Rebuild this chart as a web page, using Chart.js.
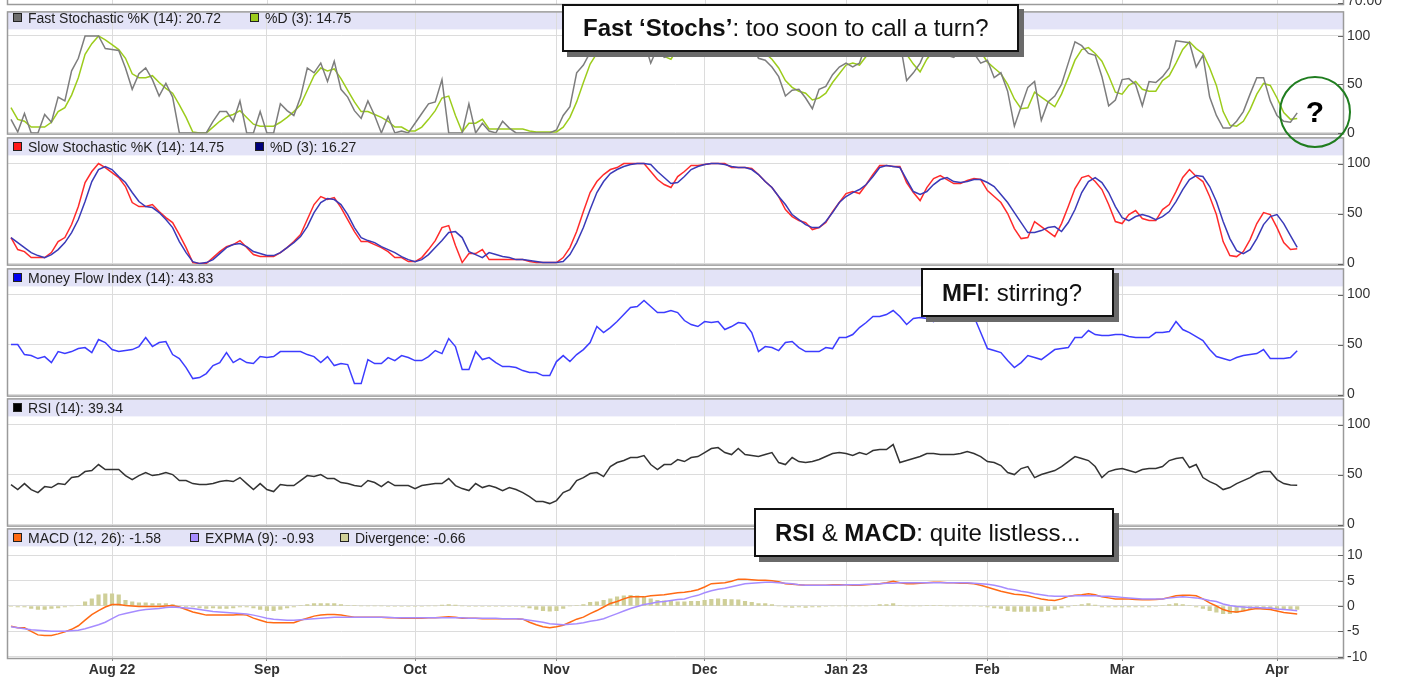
<!DOCTYPE html>
<html>
<head>
<meta charset="utf-8">
<script src="https://cdn.jsdelivr.net/npm/chart.js@4.4.0/dist/chart.umd.min.js"></script>
<style>
  html, body { margin: 0; padding: 0; background: #fff; }
  #wrap { position: relative; width: 1413px; height: 677px; overflow: hidden; font-family: "Liberation Sans", Arial, sans-serif; }
  #wrap canvas { position: absolute; left: 0; }
  .lg { position: absolute; font-size: 14px; color: #222; white-space: nowrap; line-height: 17px; }
  .sw { position: absolute; width: 7px; height: 7px; border: 1px solid #222; }
  .note { position: absolute; box-sizing: border-box; background: #fff; border: 2px solid #111; box-shadow: 5px 5px 0 #6a6a6a;
          font-size: 24px; color: #111; padding-left: 19px; white-space: nowrap; z-index: 10; }
  .ring { position: absolute; box-sizing: border-box; border: 2px solid #1f7d1f; border-radius: 50%; z-index: 10;
          font-weight: bold; font-size: 30px; color: #000; text-align: center; }
</style>
</head>
<body>
<div id="wrap">
  <div class="note" style="left:562px;top:4px;width:457px;height:48px;line-height:44px"><b>Fast ‘Stochs’</b>: too soon to call a turn?</div>
  <div class="note" style="left:921px;top:268px;width:193px;height:49px;line-height:45px"><b>MFI</b>: stirring?</div>
  <div class="note" style="left:754px;top:508px;width:360px;height:49px;line-height:45px"><b>RSI</b> &amp; <b>MACD</b>: quite listless...</div>
  <div class="ring" style="left:1279px;top:76px;width:72px;height:72px;line-height:68px">?</div>
</div>
<script>
// trading days, index 0 = first bar on the left
var monthLabels = ['Aug 22', 'Sep', 'Oct', 'Nov', 'Dec', 'Jan 23', 'Feb', 'Mar', 'Apr'];
var monthStart = [15, 38, 60, 81, 103, 124, 145, 165, 188];

var fastK = [
  14, 1, 20, 0, 0, 19, 11, 37, 33, 64,
  77, 100, 100, 100, 87, 86, 85, 67, 45, 61,
  67, 55, 38, 51, 37, 0, 0, 0, 0, 0,
  12, 22, 22, 12, 33, 0, 0, 22, 0, 0,
  30, 23, 18, 37, 67, 62, 72, 53, 74, 45,
  37, 23, 15, 33, 18, 0, 17, 0, 2, 0,
  10, 20, 30, 32, 55, 0, 0, 0, 30, 0,
  10, 2, 0, 12, 5, 0, 0, 0, 0, 0,
  0, 3, 18, 27, 62, 70, 83, 95, 97, 100,
  98, 100, 100, 100, 95, 72, 88, 78, 80, 95,
  100, 100, 96, 100, 100, 100, 100, 92, 96, 98,
  92, 77, 75, 68, 58, 38, 44, 45, 36, 25,
  45, 48, 60, 68, 72, 68, 72, 92, 100, 100,
  98, 96, 94, 54, 62, 72, 88, 100, 86, 80,
  78, 85, 90, 82, 72, 75, 57, 62, 43, 7,
  27, 47, 53, 13, 32, 38, 50, 72, 94, 90,
  82, 80, 58, 28, 34, 55, 56, 50, 28, 53,
  52, 58, 67, 95, 94, 93, 68, 80, 37, 18,
  5, 5, 12, 22, 40, 57, 57, 33, 18, 12,
  11, 20.72
];

// slow %K is the same line as fast %D
var slowK = [
  26, 14, 12, 6, 6, 6, 11, 22, 26, 39,
  57, 81, 92, 100, 96, 91, 86, 77, 61, 57,
  57, 59, 52, 46, 41, 29, 16, 1, 0, 0,
  6, 12, 17, 19, 23, 16, 9, 7, 7, 7,
  11, 16, 22, 29, 44, 59, 67, 64, 66, 56,
  44, 32, 22, 22, 19, 16, 12, 6, 6, 2,
  2, 6, 14, 23, 36, 38, 18, 1, 10, 10,
  14, 4, 4, 4, 4, 4, 4, 2, 1, 1,
  1, 1, 6, 16, 32, 52, 71, 82, 89, 94,
  96, 100, 100, 100, 100, 92, 84, 79, 76, 87,
  92, 98, 98, 99, 100, 100, 100, 96, 96, 96,
  95, 89, 82, 76, 67, 54, 47, 43, 41, 34,
  36, 41, 52, 61, 70, 72, 70, 79, 89, 98,
  98, 97, 97, 81, 71, 63, 76, 85, 88, 84,
  80, 80, 83, 85, 84, 73, 67, 61, 50, 35,
  25, 26, 42, 37, 32, 27, 40, 57, 75, 86,
  88, 82, 74, 59, 42, 40, 49, 53, 45, 43,
  43, 54, 59, 72, 86, 94, 87, 82, 67, 49,
  22, 8, 7, 12, 24, 40, 51, 49, 36, 21,
  14, 14.75
];
var fastD = slowK;

var slowD = [
  26, 21, 16, 11, 8, 6, 9, 14, 21, 31,
  44, 62, 82, 94, 97, 94, 87, 81, 71, 62,
  57, 56, 51, 44, 36, 22, 11, 2, 0, 1,
  4, 10, 16, 19, 20, 17, 12, 10, 8, 8,
  11, 16, 21, 27, 37, 51, 61, 65, 64, 59,
  49, 36, 26, 23, 21, 17, 14, 11, 7, 4,
  2, 4, 9, 16, 23, 31, 32, 26, 12, 9,
  6, 11, 9, 7, 6, 4, 4, 3, 2, 1,
  1, 1, 2, 9, 21, 36, 54, 71, 82, 90,
  94, 97, 99, 100, 100, 99, 92, 86, 80, 81,
  87, 94, 97, 99, 100, 100, 99, 97, 96, 96,
  94, 89, 82, 76, 67, 59, 49, 44, 39, 36,
  36, 42, 51, 61, 67, 71, 74, 79, 87, 96,
  98, 97, 96, 84, 72, 69, 72, 79, 84, 86,
  82, 81, 82, 84, 84, 81, 77, 69, 61, 51,
  41, 31, 31, 33, 36, 37, 32, 41, 54, 71,
  82, 86, 81, 71, 57, 46, 43, 47, 49, 47,
  44, 47, 52, 62, 74, 84, 88, 87, 77, 62,
  42, 25, 13, 10, 14, 25, 39, 47, 49, 40,
  28, 16.27
];

var mfi = [
  50, 50, 40, 39, 36, 38, 32, 43, 41, 43,
  46, 47, 42, 55, 52, 45, 43, 44, 45, 48,
  57, 48, 52, 53, 40, 36, 27, 16, 17, 21,
  29, 32, 42, 32, 36, 32, 31, 38, 37, 38,
  43, 43, 43, 43, 40, 38, 32, 38, 29, 31,
  30, 11, 11, 35, 31, 31, 37, 34, 39, 37,
  34, 34, 38, 44, 41, 56, 48, 25, 25, 43,
  35, 37, 32, 28, 28, 27, 24, 22, 22, 19,
  19, 33, 39, 33, 40, 45, 52, 68, 62, 67,
  73, 80, 87, 88, 94, 88, 82, 82, 84, 82,
  74, 70, 68, 73, 72, 73, 65, 68, 72, 71,
  62, 43, 48, 47, 44, 52, 53, 47, 43, 43,
  43, 47, 46, 57, 57, 60, 67, 72, 78, 78,
  80, 84, 78, 70, 76, 77, 76, 73, 78, 80,
  82, 82, 80, 78, 62, 46, 44, 42, 34, 27,
  32, 39, 37, 35, 40, 45, 46, 47, 57, 57,
  64, 60, 59, 59, 60, 60, 58, 57, 57, 57,
  62, 62, 63, 73, 65, 62, 58, 54, 45, 38,
  36, 34, 37, 39, 40, 41, 45, 36, 36, 36,
  37, 43.83
];

var rsi = [
  40, 35, 41, 35, 32, 38, 37, 41, 40, 47,
  48, 53, 54, 60, 55, 55, 55, 49, 45, 49,
  52, 49, 50, 52, 50, 44, 44, 41, 40, 40,
  41, 43, 44, 43, 47, 41, 35, 41, 35, 33,
  40, 39, 39, 44, 49, 48, 50, 46, 46, 42,
  41, 39, 38, 44, 42, 38, 43, 39, 39, 39,
  36, 39, 40, 41, 41, 46, 39, 36, 34, 41,
  37, 39, 37, 34, 37, 35, 32, 28, 23, 23,
  21, 24, 32, 35, 44, 47, 51, 52, 48, 58,
  62, 64, 67, 67, 69, 60, 55, 60, 60, 65,
  63, 67, 68, 72, 76, 77, 72, 70, 76, 70,
  69, 68, 70, 72, 62, 60, 67, 63, 62, 63,
  65, 68, 71, 72, 71, 69, 72, 70, 74, 75,
  75, 80, 62, 64, 66, 68, 71, 71, 70, 70,
  70, 71, 73, 71, 68, 63, 62, 59, 52, 50,
  56, 58, 47, 50, 52, 54, 58, 63, 68, 66,
  64, 58, 47, 53, 55, 56, 54, 52, 55, 56,
  56, 58, 64, 66, 67, 57, 60, 47, 43, 40,
  35, 37, 41, 44, 47, 51, 53, 53, 45, 41,
  39.5, 39.34
];

var macd = [
  -4.0, -4.3, -4.3, -5.0, -5.7, -5.8, -5.8, -5.5, -5.1, -4.6,
  -3.9, -2.8, -1.7, -0.9, -0.2, 0.3, 0.3, 0.1, 0, -0.1,
  -0.1, -0.1, -0.1, 0, 0.1, -0.2, -0.7, -1.2, -1.5, -1.8,
  -1.8, -1.8, -1.8, -1.8, -1.7, -1.8, -2.4, -2.8, -3.2, -3.3,
  -3.3, -3.3, -3.3, -2.8, -2.4, -2.0, -1.8, -1.7, -1.7, -1.8,
  -2.0, -2.2, -2.2, -2.2, -2.2, -2.2, -2.3, -2.3, -2.4, -2.4,
  -2.4, -2.4, -2.3, -2.3, -2.2, -2.1, -2.2, -2.4, -2.4, -2.4,
  -2.5, -2.5, -2.5, -2.5, -2.5, -2.5, -2.6, -3.2, -3.7, -4.1,
  -4.3, -4.1, -3.8, -3.2, -2.6, -2.2, -1.5, -0.9, -0.2, 0.5,
  0.9, 1.4, 1.8, 1.8, 1.8, 2.0, 2.1, 2.2, 2.4, 2.6,
  2.7, 2.9, 3.2, 3.75, 4.4, 4.5, 4.6, 4.9, 5.3, 5.3,
  5.2, 5.1, 5.1, 5.0, 4.8, 4.4, 4.3, 4.2, 4.1, 4.1,
  4.1, 4.1, 4.2, 4.2, 4.2, 4.1, 4.1, 4.2, 4.3, 4.4,
  4.6, 4.9, 4.6, 4.4, 4.4, 4.5, 4.6, 4.7, 4.7, 4.6,
  4.6, 4.5, 4.5, 4.4, 4.1, 3.7, 3.3, 2.9, 2.6, 2.3,
  2.2, 2.0, 1.7, 1.4, 1.2, 1.1, 1.4, 1.9, 2.1, 2.2,
  2.4, 2.2, 1.8, 1.6, 1.4, 1.4, 1.4, 1.3, 1.25, 1.25,
  1.3, 1.4, 1.7, 2.0, 2.1, 2.1, 2.0, 1.4, 0.6, 0.0,
  -0.7, -1.1, -1.2, -1.0, -0.7, -0.5, -0.6, -0.7, -1.0, -1.3,
  -1.45, -1.58
];

var expma = [
  -4.1, -4.3, -4.5, -4.7, -4.8, -4.9, -5.0, -5.0, -5.0, -4.9,
  -4.8, -4.5, -4.1, -3.7, -3.2, -2.5, -1.8, -1.5, -1.2, -0.9,
  -0.7, -0.6, -0.5, -0.3, -0.2, -0.3, -0.4, -0.5, -0.7, -0.9,
  -1.1, -1.2, -1.3, -1.4, -1.5, -1.6, -1.8, -2.1, -2.4, -2.6,
  -2.7, -2.8, -2.8, -2.7, -2.6, -2.5, -2.4, -2.3, -2.2, -2.2,
  -2.2, -2.2, -2.2, -2.2, -2.2, -2.2, -2.2, -2.3, -2.3, -2.3,
  -2.3, -2.3, -2.3, -2.3, -2.3, -2.3, -2.3, -2.3, -2.4, -2.4,
  -2.4, -2.4, -2.4, -2.5, -2.5, -2.5, -2.6, -2.8, -3.0, -3.2,
  -3.5, -3.6, -3.7, -3.6, -3.5, -3.3, -3.0, -2.8, -2.5, -2.0,
  -1.5, -1.0, -0.5, -0.1, 0.3, 0.5, 0.8, 0.9, 1.1, 1.3,
  1.4, 1.8, 2.1, 2.6, 3.0, 3.3, 3.5, 3.8, 4.1, 4.4,
  4.5, 4.6, 4.7, 4.7, 4.6, 4.5, 4.4, 4.2, 4.1, 4.1,
  4.1, 4.1, 4.1, 4.1, 4.2, 4.2, 4.2, 4.3, 4.3, 4.4,
  4.5, 4.5, 4.6, 4.6, 4.6, 4.6, 4.6, 4.6, 4.6, 4.6,
  4.6, 4.6, 4.6, 4.5, 4.4, 4.3, 4.1, 3.8, 3.4, 3.2,
  2.9, 2.7, 2.4, 2.2, 2.0, 1.9, 1.9, 1.9, 2.0, 2.0,
  2.0, 2.0, 1.9, 1.9, 1.8, 1.7, 1.6, 1.5, 1.4, 1.4,
  1.4, 1.4, 1.6, 1.7, 1.8, 1.7, 1.6, 1.4, 1.1, 0.9,
  0.4, 0.1, -0.1, -0.2, -0.3, -0.3, -0.4, -0.4, -0.6, -0.7,
  -0.8, -0.93
];

var divergence = [
  -0.1, -0.2, -0.2, -0.5, -0.7, -0.7, -0.5, -0.4, -0.2, 0,
  0.1, 0.8, 1.4, 2.2, 2.4, 2.4, 2.2, 1.1, 0.8, 0.6,
  0.6, 0.5, 0.5, 0.5, 0.3, 0, -0.2, -0.2, -0.4, -0.5,
  -0.4, -0.5, -0.5, -0.4, -0.2, -0.2, -0.4, -0.7, -0.9, -0.9,
  -0.7, -0.4, -0.2, 0.1, 0.3, 0.5, 0.5, 0.5, 0.5, 0.3,
  0.1, 0.1, 0, 0, 0, 0, -0.1, -0.1, -0.1, -0.1,
  -0.1, -0.1, 0, 0, 0.2, 0.3, 0.2, 0, -0.1, -0.1,
  -0.1, -0.1, -0.1, -0.1, -0.1, -0.1, -0.2, -0.4, -0.7, -0.9,
  -1.0, -0.9, -0.5, 0, 0.1, 0.3, 0.7, 0.8, 1.1, 1.4,
  1.8, 2.0, 2.1, 2.0, 1.8, 1.4, 1.1, 1.0, 0.9, 0.8,
  0.8, 0.9, 0.9, 1.1, 1.3, 1.4, 1.3, 1.25, 1.2, 0.9,
  0.7, 0.5, 0.5, 0.3, 0, -0.2, -0.3, -0.2, -0.3, -0.2,
  -0.2, -0.1, 0, 0, 0, 0, 0, 0, 0.1, 0.3,
  0.3, 0.5, 0.1, 0, 0, 0, 0.1, 0.1, 0.1, 0,
  0, 0, 0, 0, -0.1, -0.2, -0.4, -0.5, -0.9, -1.05,
  -1.05, -1.05, -1.05, -1.05, -0.9, -0.7, -0.4, -0.2, 0.1, 0.3,
  0.5, 0.2, -0.2, -0.2, -0.2, -0.2, -0.2, -0.2, -0.2, -0.2,
  -0.1, 0.1, 0.3, 0.5, 0.3, 0.1, -0.2, -0.5, -0.9, -1.2,
  -1.5, -1.5, -1.3, -0.9, -0.6, -0.5, -0.6, -0.5, -0.6, -0.7,
  -0.7, -0.66
];

var oscTicks = [0, 50, 100];
var macdTicks = [-10, -5, 0, 5, 10];

var gridColor = '#dcdcdc';
var frameColor = '#9a9a9a';
var bandColor = '#e3e3f7';
var xMin = -0.445, xMax = 197.8;

Chart.defaults.font.family = '"Liberation Sans", Arial, sans-serif';
Chart.defaults.font.size = 14;

var wrap = document.getElementById('wrap');

function pts(arr) {
  return arr.map(function(v, i) { return {x: i, y: v}; });
}

function lineSet(arr, color) {
  return {type: 'line', data: pts(arr), borderColor: color, borderWidth: 1.5, pointRadius: 0, tension: 0, order: 0};
}

// band, frame, right tick marks and the cut-off panel above the first one
var framePlugin = {
  id: 'panelFrame',
  beforeDraw: function(chart) {
    var a = chart.chartArea, ctx = chart.ctx;
    ctx.save();
    ctx.fillStyle = bandColor;
    ctx.fillRect(a.left, a.top, a.right - a.left, 17);
    ctx.restore();
  },
  afterDraw: function(chart, args, opts) {
    var a = chart.chartArea, ctx = chart.ctx, y = chart.scales.y;
    ctx.save();
    ctx.strokeStyle = frameColor;
    ctx.lineWidth = 1.5;
    ctx.strokeRect(a.left - 0.5, a.top - 0.5, a.right - a.left + 1, a.bottom - a.top + 1);
    ctx.strokeStyle = '#666';
    ctx.lineWidth = 1;
    y.ticks.forEach(function(t) {
      var py = Math.round(y.getPixelForValue(t.value)) + 0.5;
      ctx.beginPath(); ctx.moveTo(a.right - 5, py); ctx.lineTo(a.right, py); ctx.stroke();
    });
    if (opts.remnant) {
      var x = chart.scales.x;
      ctx.strokeStyle = gridColor;
      monthStart.forEach(function(m) {
        var px = Math.round(x.getPixelForValue(m)) + 0.5;
        ctx.beginPath(); ctx.moveTo(px, 0); ctx.lineTo(px, 4); ctx.stroke();
      });
      ctx.strokeStyle = frameColor;
      ctx.lineWidth = 1.5;
      ctx.beginPath();
      ctx.moveTo(a.left - 0.5, 0); ctx.lineTo(a.left - 0.5, 4.5); ctx.lineTo(a.right + 0.5, 4.5); ctx.lineTo(a.right + 0.5, 0);
      ctx.stroke();
      ctx.strokeStyle = '#666';
      ctx.lineWidth = 1;
      ctx.beginPath(); ctx.moveTo(a.right - 5, 3.5); ctx.lineTo(a.right, 3.5); ctx.stroke();
      ctx.fillStyle = '#333';
      ctx.font = '14px "Liberation Sans", Arial, sans-serif';
      ctx.textBaseline = 'middle';
      ctx.fillText('70.00', a.right + 4, 1);
    }
    ctx.restore();
  }
};

function addLegend(top, items) {
  items.forEach(function(it) {
    var sw = document.createElement('div');
    sw.className = 'sw';
    sw.style.left = it.x + 'px';
    sw.style.top = (top + 4) + 'px';
    sw.style.background = it.color;
    wrap.appendChild(sw);
    var tx = document.createElement('div');
    tx.className = 'lg';
    tx.style.left = (it.x + 15) + 'px';
    tx.style.top = (top + 0.5) + 'px';
    tx.textContent = it.text;
    wrap.appendChild(tx);
  });
}

function makePanel(p) {
  var axisH = p.showX ? 20 : 0;
  var canvas = document.createElement('canvas');
  canvas.width = 1413;
  canvas.height = p.bottom - p.top;
  canvas.style.top = p.top + 'px';
  wrap.insertBefore(canvas, wrap.firstChild);
  new Chart(canvas.getContext('2d'), {
    type: 'line',
    data: {datasets: p.datasets},
    options: {
      responsive: false,
      animation: false,
      events: [],
      layout: {padding: {left: 8, right: 0, top: p.areaTop - p.top, bottom: p.bottom - p.areaBottom - axisH}},
      plugins: {
        legend: {display: false},
        tooltip: {enabled: false},
        panelFrame: {remnant: !!p.remnant}
      },
      scales: {
        x: {
          type: 'linear', min: xMin, max: xMax, offset: false,
          afterBuildTicks: function(s) { s.ticks = monthStart.map(function(v) { return {value: v}; }); },
          afterFit: function(s) { s.height = axisH; },
          border: {display: false},
          grid: {color: gridColor, offset: false, drawTicks: !!p.showX, tickLength: 3, tickColor: '#888'},
          ticks: {
            display: !!p.showX, autoSkip: false, maxRotation: 0, padding: 1, color: '#333',
            font: {size: 14, weight: 'bold'},
            callback: function(v, i) { return monthLabels[i]; }
          }
        },
        y: {
          position: 'right', min: p.yMin, max: p.yMax,
          afterBuildTicks: function(s) { s.ticks = p.yTicks.map(function(v) { return {value: v}; }); },
          afterFit: function(s) { s.width = 70; },
          border: {display: false},
          grid: {color: gridColor, drawTicks: false},
          ticks: {padding: 4, color: '#333', autoSkip: false}
        }
      }
    },
    plugins: [framePlugin]
  });
  addLegend(p.areaTop, p.legend);
}

makePanel({
  top: 0, bottom: 146, areaTop: 9, areaBottom: 134, yMin: -0.7, yMax: 124.3, yTicks: oscTicks, remnant: true,
  datasets: [lineSet(fastK, '#7d7d7d'), lineSet(fastD, '#9ccc1c')],
  legend: [{x: 13, color: '#6e6e6e', text: 'Fast Stochastic %K (14): 20.72'}, {x: 250, color: '#9ccc1c', text: '%D (3): 14.75'}]
});
makePanel({
  top: 126, bottom: 277, areaTop: 138, areaBottom: 265, yMin: -1, yMax: 125.1, yTicks: oscTicks,
  datasets: [lineSet(slowD, '#3a3ab8'), lineSet(slowK, '#ff2b2b')],
  legend: [{x: 13, color: '#ff1a1a', text: 'Slow Stochastic %K (14): 14.75'}, {x: 255, color: '#00007a', text: '%D (3): 16.27'}]
});
makePanel({
  top: 257, bottom: 408, areaTop: 269, areaBottom: 396, yMin: -1, yMax: 125.1, yTicks: oscTicks,
  datasets: [lineSet(mfi, '#3c3cff')],
  legend: [{x: 13, color: '#0000ee', text: 'Money Flow Index (14): 43.83'}]
});
makePanel({
  top: 387, bottom: 538, areaTop: 399, areaBottom: 526, yMin: -1, yMax: 125.1, yTicks: oscTicks,
  datasets: [lineSet(rsi, '#333333')],
  legend: [{x: 13, color: '#000000', text: 'RSI (14): 39.34'}]
});
makePanel({
  top: 517, bottom: 678, areaTop: 529, areaBottom: 658, yMin: -10.26, yMax: 15.11, yTicks: macdTicks, showX: true,
  datasets: [
    lineSet(expma, '#a68cff'),
    lineSet(macd, '#ff6a14'),
    {type: 'bar', data: pts(divergence), backgroundColor: '#cfcf98', barThickness: 3.5, order: 1}
  ],
  legend: [
    {x: 13, color: '#ff6a14', text: 'MACD (12, 26): -1.58'},
    {x: 190, color: '#a68cff', text: 'EXPMA (9): -0.93'},
    {x: 340, color: '#cfcf98', text: 'Divergence: -0.66'}
  ]
});
</script>
</body>
</html>
